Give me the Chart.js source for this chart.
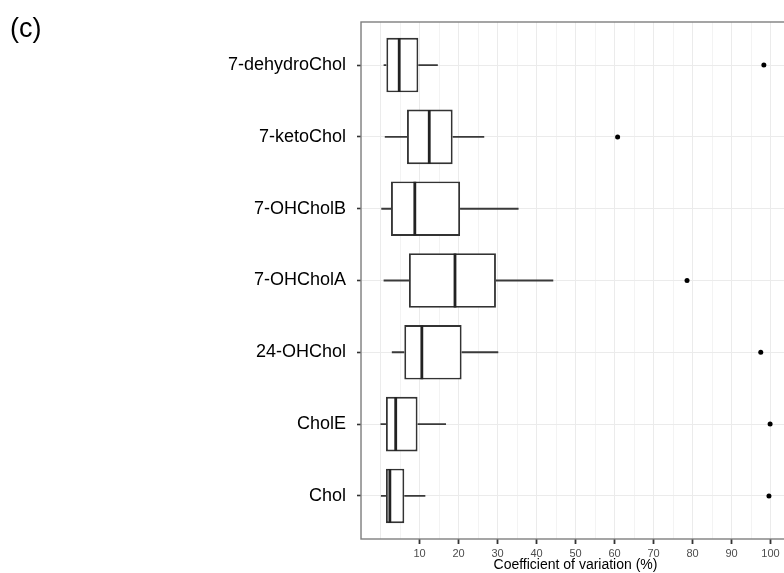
<!DOCTYPE html>
<html>
<head>
<meta charset="utf-8">
<script src="https://cdn.jsdelivr.net/npm/chart.js@4/dist/chart.umd.min.js"></script>
<style>
  html, body { margin: 0; padding: 0; background: #fff; overflow: hidden; }
  #wrap { position: relative; width: 800px; height: 573px; }
</style>
</head>
<body>
<div id="wrap"><canvas id="c"></canvas></div>
<script>
// ---- data (top-to-bottom order as shown) ----
const PANEL_LABEL = '(c)';
const AXIS_TITLE = 'Coefficient of variation (%)';
const categories = ['7-dehydroChol', '7-ketoChol', '7-OHCholB', '7-OHCholA', '24-OHChol', 'CholE', 'Chol'];
const whiskerLow  = [0.8, 1.1, 0.2, 0.8, 2.9, 0.0, 0.1];
const q1          = [1.5, 6.8, 2.7, 7.3, 6.1, 1.4, 1.4];
const median      = [4.8, 12.5, 8.8, 19.1, 10.6, 3.9, 2.4];
const q3          = [9.7, 18.5, 20.4, 29.6, 20.8, 9.5, 6.1];
const whiskerHigh = [14.7, 26.6, 35.4, 44.3, 30.2, 16.8, 11.5];
const outliers    = [98.3, 60.8, null, 78.6, 97.5, 99.9, 99.6];
const xTickLabels = [10, 20, 30, 40, 50, 60, 70, 80, 90, 100];

// ---- derived ----
const N = categories.length;
const pos = categories.map((_, i) => N - i);
const BOX_HALF = 0.375;

const boxData = categories.map((_, i) => ({ x: [q1[i], q3[i]], y: pos[i] }));
const whiskerData = categories.flatMap((_, i) => [
  { x: whiskerLow[i], y: pos[i] }, { x: q1[i], y: pos[i] }, { x: null, y: null },
  { x: q3[i], y: pos[i] }, { x: whiskerHigh[i], y: pos[i] }, { x: null, y: null }
]);
const medianData = categories.flatMap((_, i) => [
  { x: median[i], y: pos[i] - BOX_HALF }, { x: median[i], y: pos[i] + BOX_HALF }, { x: null, y: null }
]);
const outlierData = categories.map((_, i) => outliers[i] == null ? null : ({ x: outliers[i], y: pos[i] })).filter(Boolean);

const FONT = "'Liberation Sans', Arial, Helvetica, sans-serif";

const panelPlugin = {
  id: 'panel',
  afterDatasetsDraw(chart) {
    const { ctx, chartArea: a } = chart;
    ctx.save();
    ctx.strokeStyle = '#7f7f7f';
    ctx.lineWidth = 1.4;
    ctx.strokeRect(a.left, a.top, a.right - a.left, a.bottom - a.top);
    ctx.restore();
  },
  afterDraw(chart) {
    const ctx = chart.ctx;
    ctx.save();
    ctx.fillStyle = '#000';
    ctx.font = '27px ' + FONT;
    ctx.textBaseline = 'alphabetic';
    ctx.textAlign = 'left';
    ctx.fillText(PANEL_LABEL, 10, 37);
    ctx.restore();
  }
};

const tickVal = ctx => (ctx && ctx.tick) ? ctx.tick.value : NaN;
const isLabeled = v => xTickLabels.includes(Math.round(v * 1000) / 1000);

new Chart(document.getElementById('c'), {
  type: 'bar',
  data: {
    datasets: [
      {
        type: 'line', data: whiskerData, order: 3,
        borderColor: '#3a3a3a', borderWidth: 1.9, pointRadius: 0, spanGaps: false, fill: false
      },
      {
        type: 'bar', indexAxis: 'y', data: boxData, order: 2,
        backgroundColor: '#ffffff', borderColor: '#333', borderWidth: 1.9,
        borderSkipped: false, barPercentage: 0.76, categoryPercentage: 1
      },
      {
        type: 'line', data: medianData, order: 1,
        borderColor: '#222', borderWidth: 2.8, pointRadius: 0, spanGaps: false, fill: false
      },
      {
        type: 'scatter', data: outlierData, order: 0,
        pointRadius: 2.5, pointBackgroundColor: '#000', pointBorderColor: '#000', pointBorderWidth: 0
      }
    ]
  },
  options: {
    responsive: true,
    maintainAspectRatio: false,
    animation: false,
    layout: { padding: { top: 22, right: 10, left: 0, bottom: 0 } },
    plugins: { legend: { display: false }, tooltip: { enabled: false }, title: { display: false } },
    scales: {
      x: {
        type: 'linear', min: -5, max: 105, offset: false,
        afterFit(s) { s.height = 34; },
        border: { display: false },
        grid: {
          offset: false,
          color: ctx => (tickVal(ctx) % 10 === 0) ? '#ebebeb' : '#f3f3f3',
          lineWidth: 1,
          drawTicks: true, tickLength: 5,
          tickColor: ctx => isLabeled(tickVal(ctx)) ? '#333' : 'rgba(0,0,0,0)',
          tickWidth: 1.8
        },
        ticks: {
          stepSize: 5, autoSkip: false, maxRotation: 0, padding: 3,
          color: '#4d4d4d', font: { family: FONT, size: 11 },
          callback: v => isLabeled(v) ? String(v) : ''
        },
        title: {
          display: true, text: AXIS_TITLE, color: '#000',
          font: { family: FONT, size: 14, lineHeight: 1.1 }, padding: { top: 0, bottom: 0 }
        }
      },
      y: {
        type: 'linear', min: 0.4, max: N + 0.6, offset: false, beginAtZero: false,
        afterFit(s) { s.width = 361; },
        afterBuildTicks(s) { s.ticks = pos.slice().reverse().map(v => ({ value: v })); },
        border: { display: false },
        grid: {
          offset: false,
          color: '#ebebeb', lineWidth: 1, drawTicks: true, tickLength: 4,
          tickColor: '#333', tickWidth: 1.6
        },
        ticks: {
          autoSkip: false, padding: 11, color: '#000',
          font: { family: FONT, size: 18 },
          callback: v => categories[N - v] ?? ''
        }
      }
    }
  },
  plugins: [panelPlugin]
});
</script>
</body>
</html>
